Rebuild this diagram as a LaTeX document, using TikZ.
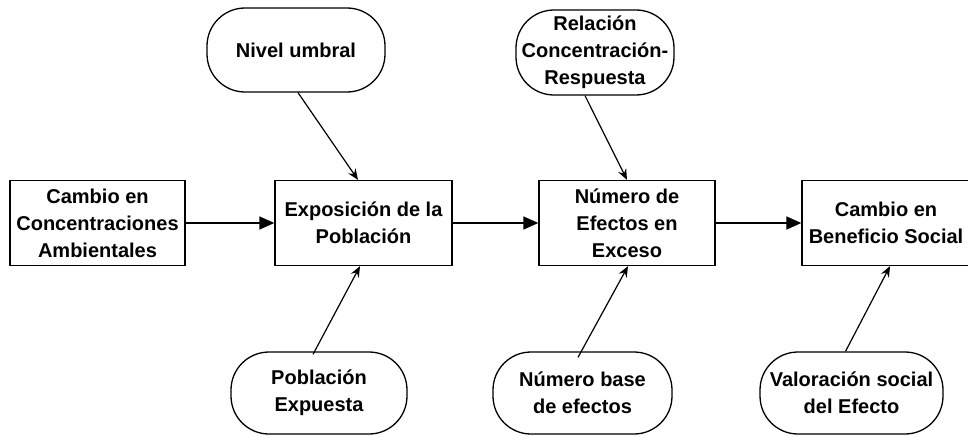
\documentclass[tikz,border=0pt]{standalone}
\usepackage{fontspec}
\setmainfont{Liberation Sans}
\usetikzlibrary{arrows.meta}
\begin{document}
\begin{tikzpicture}[x=1pt,y=-1pt,
  txt/.style={font=\bfseries\fontsize{20}{27}\selectfont, align=center, inner sep=0pt},
  boxnode/.style={txt, draw, line width=1.3pt, fill=white},
  pill/.style={txt, draw, line width=1.3pt, fill=white, rounded corners=38pt},
  bigarrow/.style={line width=1.5pt, -{Triangle[length=15pt,width=13pt]}},
  smallarrow/.style={line width=1.2pt, -{Stealth[length=11pt,width=9pt,inset=4pt]}}]
\useasboundingbox (0,0) rectangle (968,436);

\node[boxnode, minimum width=175pt, minimum height=85pt] (b1) at (97.5,223) {Cambio en\\Concentraciones\\Ambientales};
\node[boxnode, minimum width=177pt, minimum height=85pt] (b2) at (363.5,223) {Exposición de la\\Población};
\node[boxnode, minimum width=176pt, minimum height=85pt] (b3) at (627,223) {Número de\\Efectos en\\Exceso};
\node[boxnode, minimum width=168pt, minimum height=85pt] (b4) at (886,223) {Cambio en\\Beneficio Social};

\node[pill, minimum width=178pt, minimum height=84pt] (nu) at (296,50) {Nivel umbral};
\node[pill, minimum width=158pt, minimum height=85pt] (rc) at (595,52.5) {Relación\\Concentración-\\Respuesta};
\node[pill, minimum width=176pt, minimum height=82pt] (pb) at (319,393) {Población\\Expuesta};
\node[pill, minimum width=179pt, minimum height=82pt] (nb) at (582.5,393) {Número base\\de efectos};
\node[pill, minimum width=183pt, minimum height=82pt] (vs) at (851.5,393) {Valoración social\\del Efecto};

\draw[bigarrow] (b1.east) -- (b2.west);
\draw[bigarrow] (b2.east) -- (b3.west);
\draw[bigarrow] (b3.east) -- (b4.west);

\draw[smallarrow] ([xshift=2pt]nu.south) -- ([xshift=-5.5pt]b2.north);
\draw[smallarrow] ([xshift=-10pt]rc.south) -- (b3.north);
\draw[smallarrow] ([xshift=-6pt,yshift=-3pt]pb.north) -- ([xshift=-3.5pt]b2.south);
\draw[smallarrow] ([xshift=-4.5pt,yshift=-6pt]nb.north) -- ([xshift=1pt]b3.south);
\draw[smallarrow] ([xshift=-6pt]vs.north) -- ([xshift=4pt]b4.south);
\end{tikzpicture}
\end{document}
